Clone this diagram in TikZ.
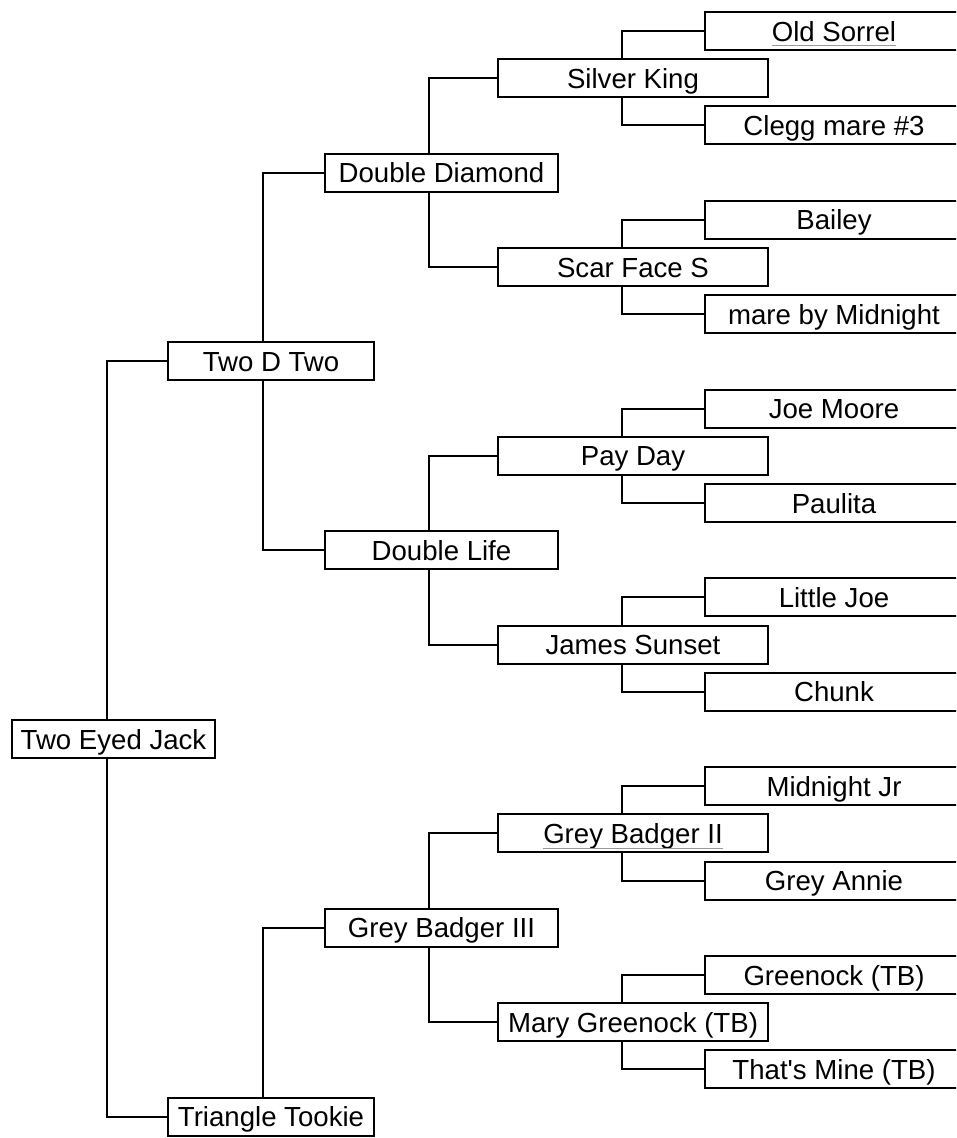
\documentclass[tikz,border=0pt]{standalone}
\usepackage{fontspec}
\setmainfont{Liberation Sans}
\definecolor{LinkGrey}{HTML}{999999}
\newcommand{\linked}[1]{{\color{LinkGrey}\underline{\color{black}\smash{#1}\rule[-3pt]{0pt}{3pt}}}}
\tikzset{
    horse/.style = {draw, rectangle, anchor=west, inner sep=0pt,
        minimum height=38pt, text height=20pt, text depth=0pt,
        font=\fontsize{27.6}{33}\selectfont},
    gen0/.style = {horse, minimum width=203pt},
    gen1/.style = {horse, minimum width=206pt},
    gen2/.style = {horse, minimum width=233pt},
    gen3/.style = {horse, minimum width=270pt},
    gen4/.style = {horse, minimum width=258pt},
    link/.style = {draw}
}

\begin{document}
\begin{tikzpicture}[x=1pt,y=-1pt,line width=2pt]
    \useasboundingbox (0,0) rectangle (956,1138);
    \clip (0,0) rectangle (956,1138);
    % horses
    \node[gen0] (jack) at (11,739) {Two Eyed Jack};
    \node[gen1] (twod) at (167,361.4) {Two D Two};
    \node[gen1] (tookie) at (167,1116.6) {Triangle Tookie};
    \node[gen2] (ddiamond) at (324,172.6) {Double Diamond};
    \node[gen2] (dlife) at (324,550.2) {Double Life};
    \node[gen2] (badger3) at (324,927.8) {Grey Badger III};
    \node[gen3] (silver) at (497,78.2) {Silver King};
    \node[gen3] (scar) at (497,267) {Scar Face S};
    \node[gen3] (payday) at (497,455.8) {Pay Day};
    \node[gen3] (james) at (497,644.6) {James Sunset};
    \node[gen3] (badger2) at (497,833.4) {\linked{Grey Badger II}};
    \node[gen3] (mary) at (497,1022.2) {Mary Greenock (TB)};
    \node[gen4] (sorrel) at (704,31) {\linked{Old Sorrel}};
    \node[gen4] (clegg) at (704,125.4) {Clegg mare \#3};
    \node[gen4] (bailey) at (704,219.8) {Bailey};
    \node[gen4] (midmare) at (704,314.2) {mare by Midnight};
    \node[gen4] (joe) at (704,408.6) {Joe Moore};
    \node[gen4] (paulita) at (704,503) {Paulita};
    \node[gen4] (littlejoe) at (704,597.4) {Little Joe};
    \node[gen4] (chunk) at (704,691.8) {Chunk};
    \node[gen4] (midjr) at (704,786.2) {Midnight Jr};
    \node[gen4] (annie) at (704,880.6) {Grey Annie};
    \node[gen4] (greenock) at (704,975) {Greenock (TB)};
    \node[gen4] (mine) at (704,1069.4) {That\textquotesingle s Mine (TB)};
    % sire up, dam down
    \draw[link] ([xshift=-6.5pt]jack.north) |- (twod.west);
    \draw[link] ([xshift=-6.5pt]jack.south) |- (tookie.west);
    \draw[link] ([xshift=-8pt]twod.north) |- (ddiamond.west);
    \draw[link] ([xshift=-8pt]twod.south) |- (dlife.west);
    \draw[link] ([xshift=-8pt]tookie.north) |- (badger3.west);
    \draw[link] ([xshift=-12.5pt]ddiamond.north) |- (silver.west);
    \draw[link] ([xshift=-12.5pt]ddiamond.south) |- (scar.west);
    \draw[link] ([xshift=-12.5pt]dlife.north) |- (payday.west);
    \draw[link] ([xshift=-12.5pt]dlife.south) |- (james.west);
    \draw[link] ([xshift=-12.5pt]badger3.north) |- (badger2.west);
    \draw[link] ([xshift=-12.5pt]badger3.south) |- (mary.west);
    \draw[link] ([xshift=-11pt]silver.north) |- (sorrel.west);
    \draw[link] ([xshift=-11pt]silver.south) |- (clegg.west);
    \draw[link] ([xshift=-11pt]scar.north) |- (bailey.west);
    \draw[link] ([xshift=-11pt]scar.south) |- (midmare.west);
    \draw[link] ([xshift=-11pt]payday.north) |- (joe.west);
    \draw[link] ([xshift=-11pt]payday.south) |- (paulita.west);
    \draw[link] ([xshift=-11pt]james.north) |- (littlejoe.west);
    \draw[link] ([xshift=-11pt]james.south) |- (chunk.west);
    \draw[link] ([xshift=-11pt]badger2.north) |- (midjr.west);
    \draw[link] ([xshift=-11pt]badger2.south) |- (annie.west);
    \draw[link] ([xshift=-11pt]mary.north) |- (greenock.west);
    \draw[link] ([xshift=-11pt]mary.south) |- (mine.west);
\end{tikzpicture}
\end{document}
